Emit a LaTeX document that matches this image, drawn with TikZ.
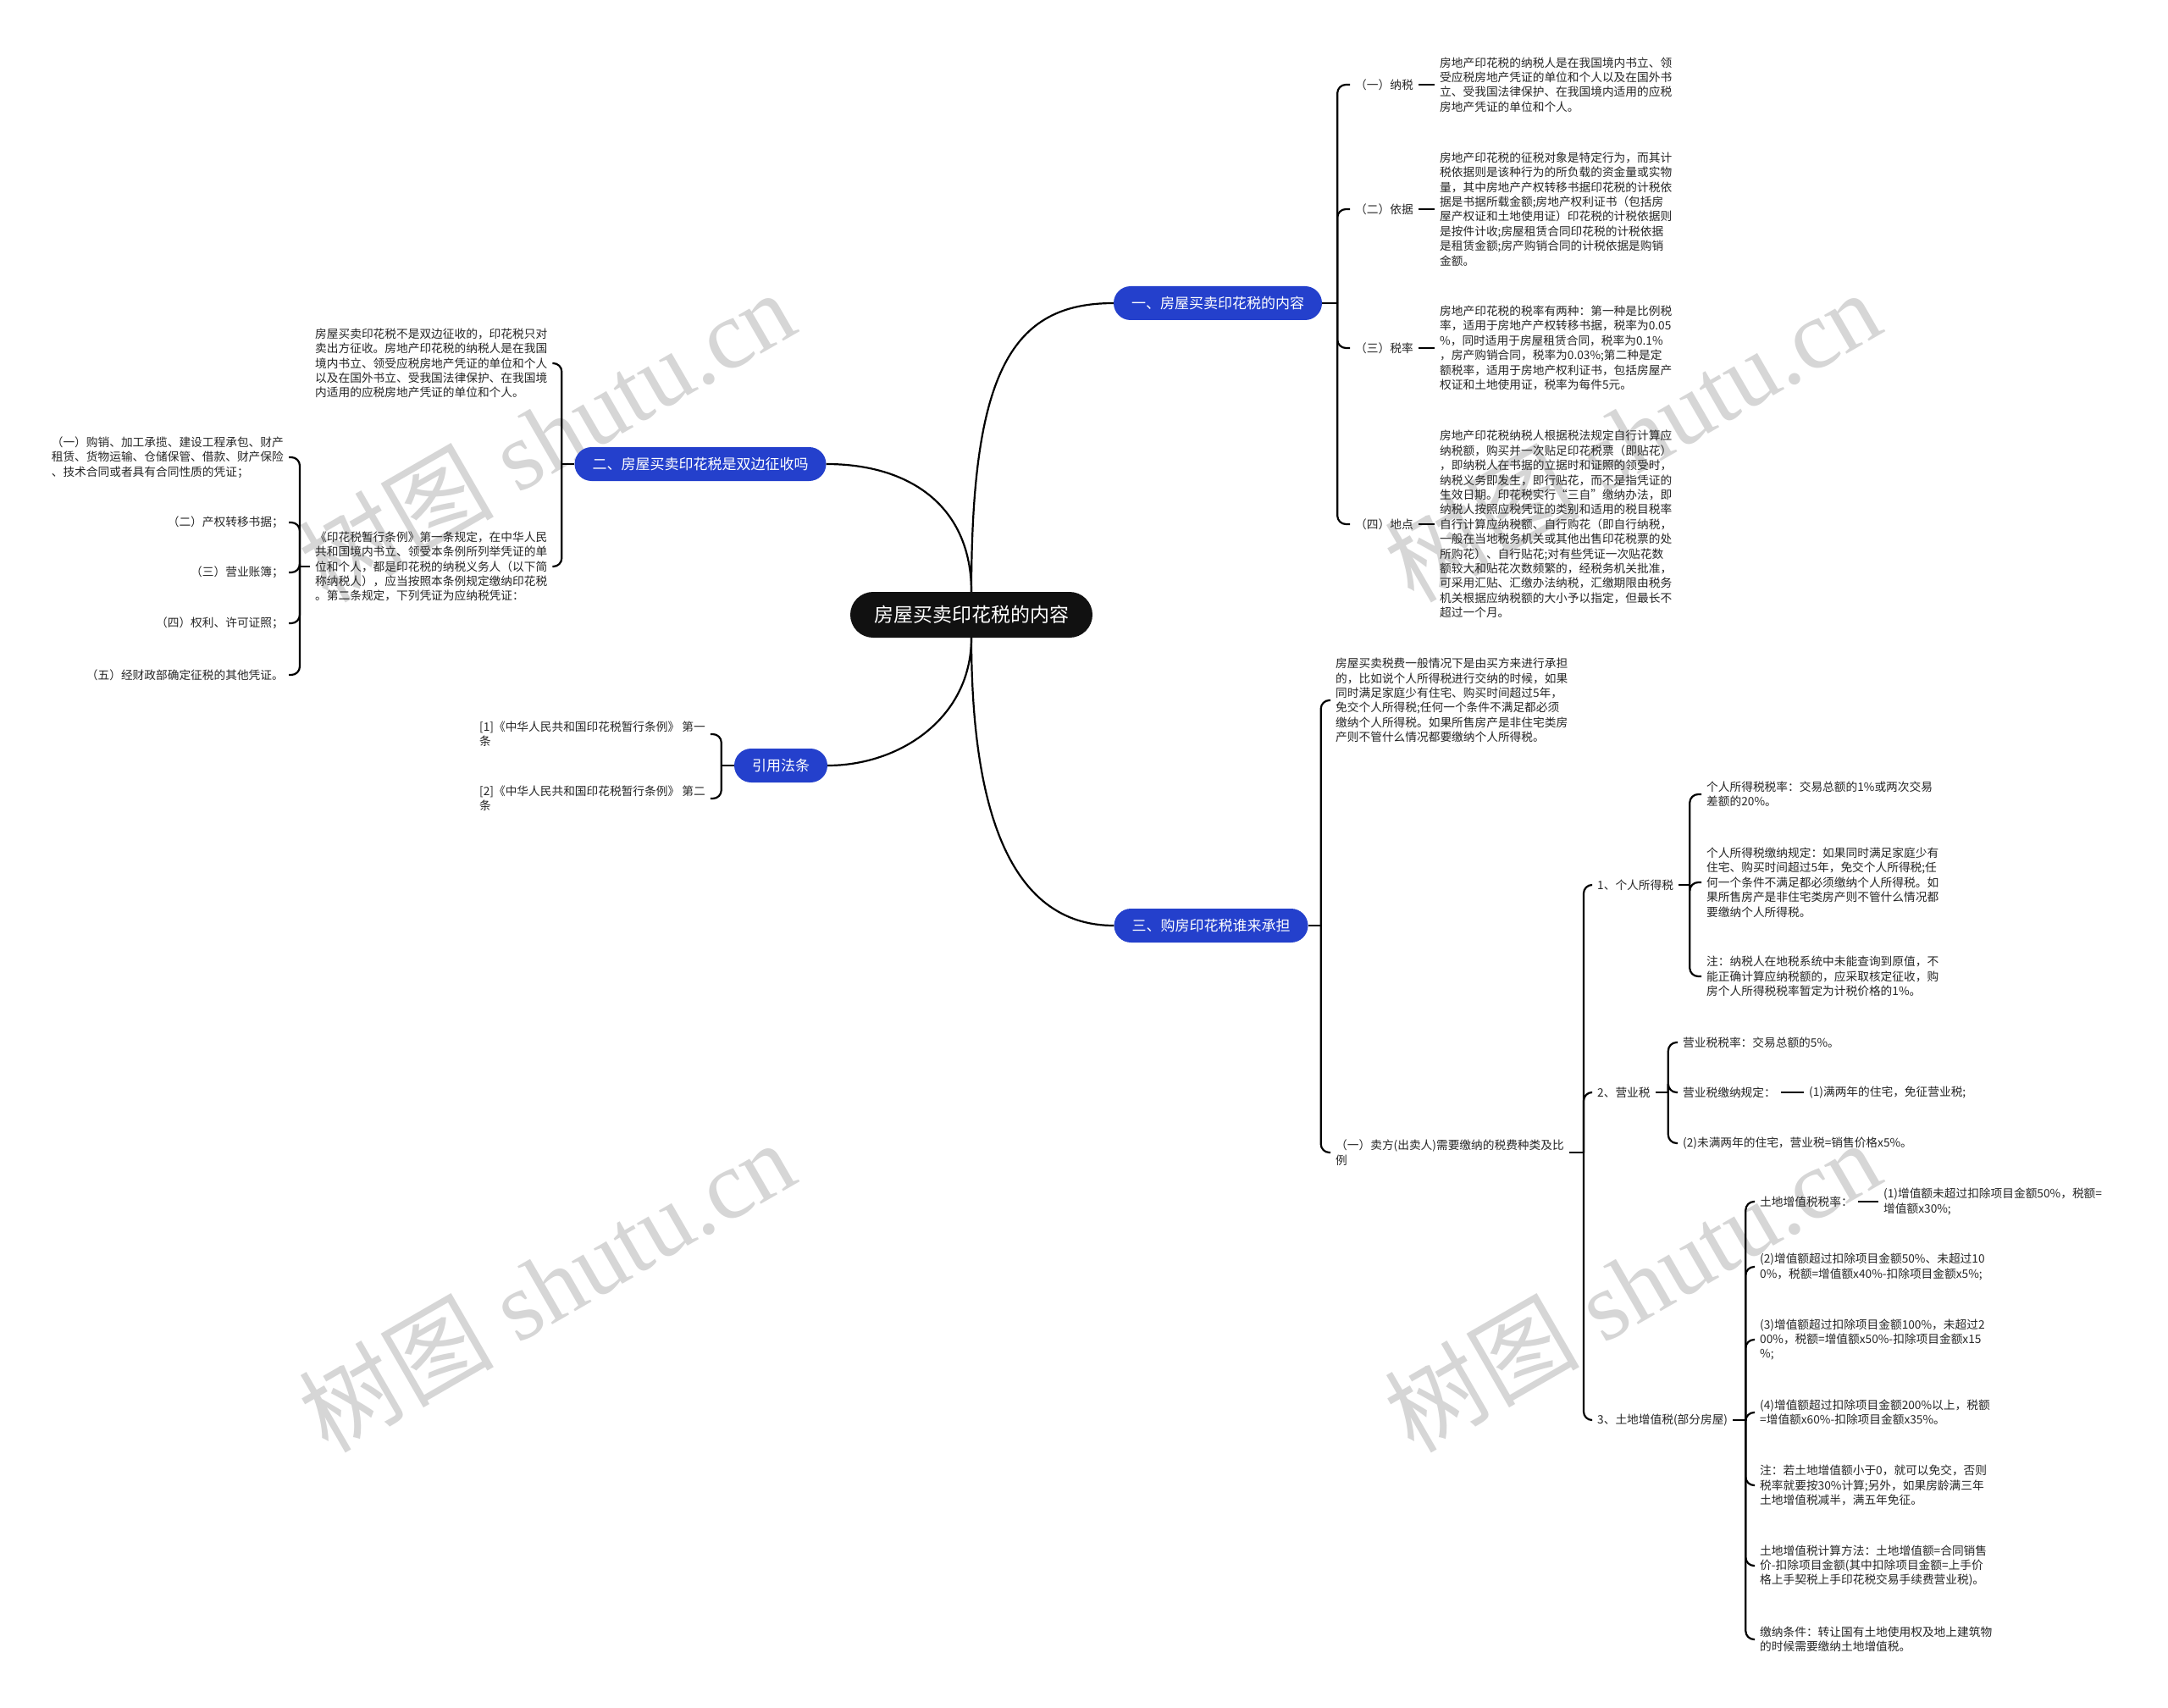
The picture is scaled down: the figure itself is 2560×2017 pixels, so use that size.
\documentclass[tikz,border=0pt]{standalone}
\usepackage{fontspec}
\setmainfont{Noto Sans CJK SC}
\newfontfamily\wmlatin{Liberation Serif}
\usetikzlibrary{calc}
\definecolor{brblue}{RGB}{36,64,204}
\definecolor{rootblk}{RGB}{17,17,17}
\definecolor{wmgray}{RGB}{214,214,214}
\begin{document}
\begin{tikzpicture}[x=1pt,y=-1pt,
 link/.style={draw=black, line width=2.2pt},
 hook/.style={link, rounded corners=10pt},
 txt/.style={font=\fontsize{13.7}{17.4}\selectfont, align=left, inner xsep=6pt, inner ysep=2pt, text=black!85},
 branch/.style={fill=brblue, text=white, rounded corners=20pt, minimum height=40pt, inner xsep=21pt, inner ysep=0pt, font=\fontsize{17}{20}\selectfont},
 rootn/.style={fill=rootblk, text=white, rounded corners=27pt, minimum height=54pt, inner xsep=28pt, inner ysep=0pt, font=\fontsize{23}{26}\selectfont},
 wm/.style={text=wmgray, rotate=30, font=\fontsize{115}{115}\selectfont, inner sep=0pt}
]
\path[fill=white] (0,0) rectangle (2560,2017);
\useasboundingbox (0,0) rectangle (2560,2017);

% watermarks
\node[wm] (wm1) at (645,514) {树图\hspace{0.25em}{\wmlatin shutu.cn}};
\node[wm] (wm2) at (1927,514) {树图\hspace{0.25em}{\wmlatin shutu.cn}};
\node[wm] (wm3) at (645,1518) {树图\hspace{0.25em}{\wmlatin shutu.cn}};
\node[wm] (wm4) at (1927,1518) {树图\hspace{0.25em}{\wmlatin shutu.cn}};

% root and branches
\node[rootn] (root) at (1147,726) {房屋买卖印花税的内容};
\node[branch] (n1) at (1438,358) {一、房屋买卖印花税的内容};
\node[branch] (n2) at (827,548) {二、房屋买卖印花税是双边征收吗};
\node[branch] (n3) at (1430,1093) {三、购房印花税谁来承担};
\node[branch] (n4) at (922,904) {引用法条};

\draw[link] (root.north) .. controls +(0,-260) and +(-120,0) .. (n1.west);
\draw[link] (root.north) .. controls +(0,-100) and +(100,0) .. (n2.east);
\draw[link] (root.south) .. controls +(0,230) and +(-110,0) .. (n3.west);
\draw[link] (root.south) .. controls +(0,95) and +(85,0) .. (n4.east);

% ---- branch 1
\node[txt,anchor=west] (l11) at (1594,100) {（一）纳税};
\node[txt,anchor=west] (l12) at (1594,247) {（二）依据};
\node[txt,anchor=west] (l13) at (1594,411) {（三）税率};
\node[txt,anchor=west] (l14) at (1594,619) {（四）地点};
\node[txt,anchor=west] (t11) at (1694,100) {房地产印花税的纳税人是在我国境内书立、领\\受应税房地产凭证的单位和个人以及在国外书\\立、受我国法律保护、在我国境内适用的应税\\房地产凭证的单位和个人。};
\node[txt,anchor=west] (t12) at (1694,247) {房地产印花税的征税对象是特定行为，而其计\\税依据则是该种行为的所负载的资金量或实物\\量，其中房地产产权转移书据印花税的计税依\\据是书据所载金额;房地产权利证书（包括房\\屋产权证和土地使用证）印花税的计税依据则\\是按件计收;房屋租赁合同印花税的计税依据\\是租赁金额;房产购销合同的计税依据是购销\\金额。};
\node[txt,anchor=west] (t13) at (1694,411) {房地产印花税的税率有两种：第一种是比例税\\率，适用于房地产产权转移书据，税率为0.05\\\%，同时适用于房屋租赁合同，税率为0.1\%\\，房产购销合同，税率为0.03\%;第二种是定\\额税率，适用于房地产权利证书，包括房屋产\\权证和土地使用证，税率为每件5元。};
\node[txt,anchor=west] (t14) at (1694,619) {房地产印花税纳税人根据税法规定自行计算应\\纳税额，购买并一次贴足印花税票（即贴花）\\，即纳税人在书据的立据时和证照的领受时，\\纳税义务即发生，即行贴花，而不是指凭证的\\生效日期。印花税实行“三自”缴纳办法，即\\纳税人按照应税凭证的类别和适用的税目税率\\自行计算应纳税额、自行购花（即自行纳税，\\一般在当地税务机关或其他出售印花税票的处\\所购花）、自行贴花;对有些凭证一次贴花数\\额较大和贴花次数频繁的，经税务机关批准，\\可采用汇贴、汇缴办法纳税，汇缴期限由税务\\机关根据应纳税额的大小予以指定，但最长不\\超过一个月。};
\coordinate (j1) at ($(n1.east)+(18,0)$);
\draw[link] (n1.east) -- (j1);
\foreach \c in {l11,l12,l13,l14} \draw[hook] (j1) |- (\c.west);
\foreach \a/\b in {l11/t11,l12/t12,l13/t13,l14/t14} \draw[link] (\a.east) -- (\b.west);

% ---- branch 2
\node[txt,anchor=west] (tA) at (366,429) {房屋买卖印花税不是双边征收的，印花税只对\\卖出方征收。房地产印花税的纳税人是在我国\\境内书立、领受应税房地产凭证的单位和个人\\以及在国外书立、受我国法律保护、在我国境\\内适用的应税房地产凭证的单位和个人。};
\node[txt,anchor=west] (tB) at (366,669) {《印花税暂行条例》第一条规定，在中华人民\\共和国境内书立、领受本条例所列举凭证的单\\位和个人，都是印花税的纳税义务人（以下简\\称纳税人），应当按照本条例规定缴纳印花税\\。第二条规定，下列凭证为应纳税凭证：};
\coordinate (j2) at ($(n2.west)+(-15,0)$);
\draw[link] (n2.west) -- (j2);
\foreach \c in {tA,tB} \draw[hook] (j2) |- (\c.east);
\node[txt,anchor=east] (i1) at (341,540) {（一）购销、加工承揽、建设工程承包、财产\\租赁、货物运输、仓储保管、借款、财产保险\\、技术合同或者具有合同性质的凭证；};
\node[txt,anchor=east] (i2) at (341,617) {（二）产权转移书据；};
\node[txt,anchor=east] (i3) at (341,676) {（三）营业账簿；};
\node[txt,anchor=east] (i4) at (341,736) {（四）权利、许可证照；};
\node[txt,anchor=east] (i5) at (341,797) {（五）经财政部确定征税的其他凭证。};
\coordinate (j3) at ($(tB.west)+(-12,0)$);
\draw[link] (tB.west) -- (j3);
\foreach \c in {i1,i2,i3,i4,i5} \draw[hook] (j3) |- (\c.east);

% ---- 引用法条
\node[txt,anchor=west] (r1) at (560,867) {[1]《中华人民共和国印花税暂行条例》 第一\\条};
\node[txt,anchor=west] (r2) at (560,943) {[2]《中华人民共和国印花税暂行条例》 第二\\条};
\coordinate (j4) at ($(n4.west)+(-15,0)$);
\draw[link] (n4.west) -- (j4);
\foreach \c in {r1,r2} \draw[hook] (j4) |- (\c.east);

% ---- branch 3
\node[txt,anchor=west] (tC) at (1571,827) {房屋买卖税费一般情况下是由买方来进行承担\\的，比如说个人所得税进行交纳的时候，如果\\同时满足家庭少有住宅、购买时间超过5年，\\免交个人所得税;任何一个条件不满足都必须\\缴纳个人所得税。如果所售房产是非住宅类房\\产则不管什么情况都要缴纳个人所得税。};
\node[txt,anchor=west] (s1) at (1571,1361) {（一）卖方(出卖人)需要缴纳的税费种类及比\\例};
\coordinate (j5) at ($(n3.east)+(15,0)$);
\draw[link] (n3.east) -- (j5);
\foreach \c in {tC,s1} \draw[hook] (j5) |- (\c.west);

\node[txt,anchor=west] (p1) at (1880,1045) {1、个人所得税};
\node[txt,anchor=west] (p2) at (1880,1290) {2、营业税};
\node[txt,anchor=west] (p3) at (1880,1677) {3、土地增值税(部分房屋)};
\coordinate (j6) at ($(s1.east)+(17,0)$);
\draw[link] (s1.east) -- (j6);
\foreach \c in {p1,p2,p3} \draw[hook] (j6) |- (\c.west);

\node[txt,anchor=west] (q1) at (2009,938) {个人所得税税率：交易总额的1\%或两次交易\\差额的20\%。};
\node[txt,anchor=west] (q2) at (2009,1042) {个人所得税缴纳规定：如果同时满足家庭少有\\住宅、购买时间超过5年，免交个人所得税;任\\何一个条件不满足都必须缴纳个人所得税。如\\果所售房产是非住宅类房产则不管什么情况都\\要缴纳个人所得税。};
\node[txt,anchor=west] (q3) at (2009,1153) {注：纳税人在地税系统中未能查询到原值，不\\能正确计算应纳税额的，应采取核定征收，购\\房个人所得税税率暂定为计税价格的1\%。};
\coordinate (j7) at ($(p1.east)+(13,0)$);
\draw[link] (p1.east) -- (j7);
\foreach \c in {q1,q2,q3} \draw[hook] (j7) |- (\c.west);

\node[txt,anchor=west] (y1) at (1981,1231) {营业税税率：交易总额的5\%。};
\node[txt,anchor=west] (y2) at (1981,1290) {营业税缴纳规定：};
\node[txt,anchor=west] (y2b) at (2130,1290) {(1)满两年的住宅，免征营业税;};
\node[txt,anchor=west] (y3) at (1981,1350) {(2)未满两年的住宅，营业税=销售价格x5\%。};
\coordinate (j8) at ($(p2.east)+(15,0)$);
\draw[link] (p2.east) -- (j8);
\foreach \c in {y1,y2,y3} \draw[hook] (j8) |- (\c.west);
\draw[link] (y2.east) -- (y2b.west);

\node[txt,anchor=west] (z1) at (2072,1419) {土地增值税税率：};
\node[txt,anchor=west] (z1b) at (2218,1419) {(1)增值额未超过扣除项目金额50\%，税额=\\增值额x30\%;};
\node[txt,anchor=west] (z2) at (2072,1496) {(2)增值额超过扣除项目金额50\%、未超过10\\0\%，税额=增值额x40\%-扣除项目金额x5\%;};
\node[txt,anchor=west] (z3) at (2072,1582) {(3)增值额超过扣除项目金额100\%，未超过2\\00\%，税额=增值额x50\%-扣除项目金额x15\\\%;};
\node[txt,anchor=west] (z4) at (2072,1668) {(4)增值额超过扣除项目金额200\%以上，税额\\=增值额x60\%-扣除项目金额x35\%。};
\node[txt,anchor=west] (z5) at (2072,1754) {注：若土地增值额小于0，就可以免交，否则\\税率就要按30\%计算;另外，如果房龄满三年\\土地增值税减半，满五年免征。};
\node[txt,anchor=west] (z6) at (2072,1849) {土地增值税计算方法：土地增值额=合同销售\\价-扣除项目金额(其中扣除项目金额=上手价\\格上手契税上手印花税交易手续费营业税)。};
\node[txt,anchor=west] (z7) at (2072,1936) {缴纳条件：转让国有土地使用权及地上建筑物\\的时候需要缴纳土地增值税。};
\coordinate (j9) at ($(p3.east)+(15,0)$);
\draw[link] (p3.east) -- (j9);
\foreach \c in {z1,z2,z3,z4,z5,z6,z7} \draw[hook] (j9) |- (\c.west);
\draw[link] (z1.east) -- (z1b.west);
\end{tikzpicture}
\end{document}
